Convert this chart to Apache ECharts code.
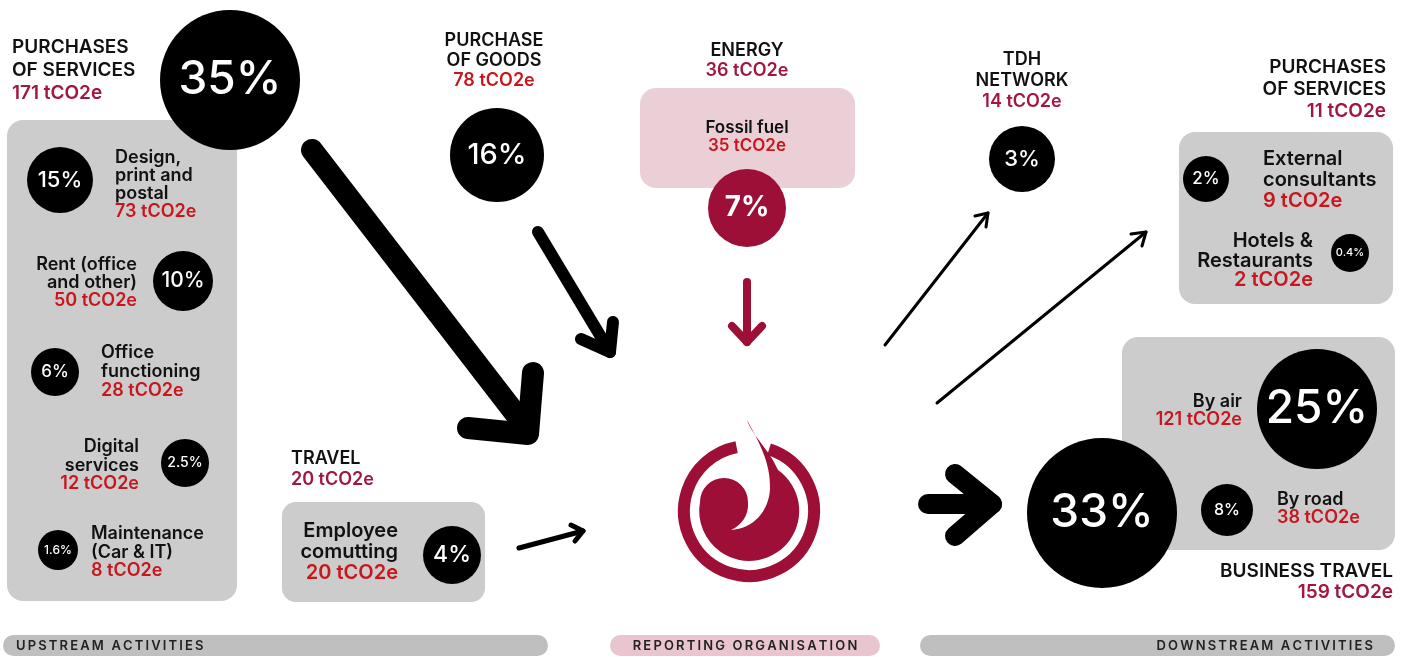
<!DOCTYPE html>
<html lang="en">
<head>
<meta charset="UTF-8">
<title>Carbon footprint by activity</title>
<script src="https://cdn.jsdelivr.net/npm/echarts@6/dist/echarts.min.js"></script>
<style>
    html, body { margin: 0; padding: 0; background: #fff; }
    #main { width: 1408px; height: 657px; }
</style>
</head>
<body>
<div id="main"></div>
<script>
// ---------- data ----------
const unit = ' tCO2e';
const groupTitles = ['PURCHASES\nOF SERVICES', 'PURCHASE\nOF GOODS', 'ENERGY', 'TRAVEL', 'TDH\nNETWORK', 'PURCHASES\nOF SERVICES', 'BUSINESS TRAVEL'];
const groupTotals = [171, 78, 36, 20, 14, 11, 159];
const itemTitles = ['Design,\nprint and\npostal', 'Rent (office\nand other)', 'Office\nfunctioning', 'Digital\nservices', 'Maintenance\n(Car & IT)',
    'Fossil fuel', 'Employee\ncomutting', 'External\nconsultants', 'Hotels &\nRestaurants', 'By air', 'By road'];
const itemTotals = [73, 50, 28, 12, 8, 35, 20, 9, 2, 121, 38];
// shares in %: purchases of services, its 5 items, goods, fossil fuel, commuting, TDH, consultants, hotels, business travel, air, road
const shareValues = [35, 15, 10, 6, 2.5, 1.6, 16, 7, 4, 3, 2, 0.4, 33, 25, 8];
const bandLabels = ['UPSTREAM ACTIVITIES', 'REPORTING ORGANISATION', 'DOWNSTREAM ACTIVITIES'];

// ---------- layout (pixels of the 1408x657 page) ----------
const BLACK = '#111', WINE = '#a1173f', RED = '#c8161d', GREY = '#cccccc', PINK = '#ebcfd6', DARKRED = '#9e0f37';
const FONT = 'Inter, "Noto Sans", sans-serif';
// x, y of first line, align, line height, font size, value colour
const groupPos = [
    [12, 47, 'left', 23, 19, WINE],
    [494, 41, 'center', 20, 18, RED],
    [747, 51, 'center', 20, 18, WINE],
    [291, 459, 'left', 21, 18, WINE],
    [1022, 60, 'center', 21, 18, WINE],
    [1386, 67, 'right', 22, 19, WINE],
    [1393, 571, 'right', 21, 19, WINE]
];
const itemPos = [
    [115, 158, 'left', 18, 18],
    [137, 265, 'right', 18, 18],
    [101, 353, 'left', 19, 18],
    [139, 447, 'right', 18.5, 18],
    [91, 534, 'left', 18.5, 18],
    [747, 128, 'center', 18, 17],
    [398, 531, 'right', 21, 20],
    [1263, 159, 'left', 21, 20],
    [1313, 241, 'right', 19.5, 20],
    [1242, 402, 'right', 18, 18],
    [1277, 500, 'left', 18, 18]
];
// cx, cy, radius, font size
const circlePos = [
    [230, 80, 70, 46], [60, 180, 33, 22], [183, 281, 30, 21], [55, 372, 24, 17], [185, 463, 24, 14], [58, 550, 20, 12],
    [497, 155, 47, 29], [747, 208, 39, 28], [452, 555, 29, 23], [1022, 159, 33, 22], [1206, 179, 23, 17],
    [1350, 253, 19, 11], [1102, 513, 75, 46], [1317, 409, 60, 46], [1227, 510, 26, 16]
];
const circleColor = shareValues.map((v, i) => i === 7 ? DARKRED : '#000');
// x, y, w, h, radius, fill
const boxes = [
    [7, 120, 230, 481, 16, GREY],
    [282, 502, 203, 100, 14, GREY],
    [640, 88, 215, 100, 16, PINK],
    [1179, 132, 214, 172, 16, GREY],
    [1122, 337, 273, 213, 16, GREY]
];
// x, y, w, h, fill, text align, text x
const bands = [
    [3, 635, 545, 21, '#bfbfbf', 'left', 16],
    [610, 635, 270, 21, '#e8c5cf', 'center', 745],
    [920, 635, 475, 21, '#bfbfbf', 'right', 1373]
];
// shaft, head, width, colour
const arrows = [
    [[[312, 150], [528, 430]], [[468, 428], [528, 434], [533, 373]], 22, '#000'],
    [[[538, 232], [610, 352]], [[581, 339], [610, 352], [613, 322]], 12, '#000'],
    [[[747, 282], [747, 342]], [[732, 326], [747, 342], [762, 326]], 8, DARKRED],
    [[[519, 548], [583, 531]], [[571, 525], [583, 531], [575, 541]], 5, '#000'],
    [[[885, 345], [988, 213]], [[975, 216], [988, 213], [986, 227]], 3, '#000'],
    [[[937, 403], [1146, 232]], [[1131, 234], [1146, 232], [1142, 246]], 3, '#000'],
    [[[928, 504], [992, 504]], [[955, 474], [992, 504], [955, 536]], 20, '#000']
];
const logoPos = [749, 511];
const logoBody = 'M -2 -91 C 4 -74 20 -62 29 -41 A 50 50 0 1 1 -49 -9 A 24 24 0 0 1 -1 -9 ' +
    'C 0 4 -7 14 -18 19 C 4 18 20 0 21 -22 C 22 -50 8 -72 -2 -91 Z';

// ---------- chart ----------
const chart = echarts.init(document.getElementById('main'));

function textBlock(api, pos, title, value, size, valueColor) {
    const lines = title.split('\n');
    const font = '600 ' + size + 'px ' + FONT;
    const children = lines.map((t, i) => {
        const p = api.coord([pos[0], pos[1] + i * pos[3]]);
        return { type: 'text', style: { text: t, x: p[0], y: p[1], fill: BLACK, font: font, align: pos[2], verticalAlign: 'middle' } };
    });
    const pv = api.coord([pos[0], pos[1] + lines.length * pos[3]]);
    children.push({ type: 'text', style: { text: value + unit, x: pv[0], y: pv[1], fill: valueColor, font: font, align: pos[2], verticalAlign: 'middle' } });
    return { type: 'group', children: children };
}

function rectOf(api, x, y, w, h) {
    const a = api.coord([x, y]), b = api.coord([x + w, y + h]);
    return { x: a[0], y: a[1], width: b[0] - a[0], height: b[1] - a[1] };
}

const option = {
    animation: false,
    backgroundColor: '#fff',
    grid: { left: 0, right: 0, top: 0, bottom: 0 },
    xAxis: { type: 'value', min: 0, max: 1408, show: false },
    yAxis: { type: 'value', min: 0, max: 657, inverse: true, show: false },
    series: [
        {
            type: 'custom', name: 'boxes', z: 1, silent: true,
            data: boxes.map(b => [b[0], b[1]]),
            renderItem: (params, api) => {
                const b = boxes[params.dataIndex];
                const r = rectOf(api, b[0], b[1], b[2], b[3]);
                r.r = b[4];
                return { type: 'rect', shape: r, style: { fill: b[5] } };
            }
        },
        {
            type: 'custom', name: 'bands', z: 1, silent: true,
            data: bands.map(b => [b[0], b[1]]),
            renderItem: (params, api) => {
                const b = bands[params.dataIndex];
                const r = rectOf(api, b[0], b[1], b[2], b[3]);
                r.r = b[3] / 2;
                const t = api.coord([b[6], b[1] + b[3] / 2 + 1]);
                const label = bandLabels[params.dataIndex].split('').join('\u2009');
                return {
                    type: 'group', children: [
                        { type: 'rect', shape: r, style: { fill: b[4] } },
                        { type: 'text', style: { text: label, x: t[0], y: t[1], fill: '#222', font: '600 13px ' + FONT, align: b[5], verticalAlign: 'middle' } }
                    ]
                };
            }
        },
        {
            type: 'custom', name: 'arrows', z: 3, silent: true,
            data: arrows.map(a => a[0][0]),
            renderItem: (params, api) => {
                const a = arrows[params.dataIndex];
                const style = { stroke: a[3], lineWidth: a[2], fill: null, lineCap: 'round', lineJoin: 'round' };
                return {
                    type: 'group', children: [
                        { type: 'polyline', shape: { points: a[0].map(p => api.coord(p)) }, style: style },
                        { type: 'polyline', shape: { points: a[1].map(p => api.coord(p)) }, style: style }
                    ]
                };
            }
        },
        {
            type: 'custom', name: 'logo', z: 3, silent: true,
            data: [logoPos],
            renderItem: (params, api) => {
                const c = api.coord([api.value(0), api.value(1)]);
                return {
                    type: 'group', children: [
                        { type: 'arc', shape: { cx: c[0], cy: c[1], r: 65, startAngle: -72 * Math.PI / 180, endAngle: 259 * Math.PI / 180, clockwise: true },
                          style: { stroke: DARKRED, lineWidth: 12, fill: null } },
                        { type: 'path', x: c[0], y: c[1], shape: { pathData: logoBody }, style: { fill: DARKRED } }
                    ]
                };
            }
        },
        {
            type: 'scatter', name: 'shares', z: 4, silent: true, symbol: 'circle',
            data: shareValues.map((v, i) => ({
                value: [circlePos[i][0], circlePos[i][1], v],
                symbolSize: circlePos[i][2] * 2,
                itemStyle: { color: circleColor[i], opacity: 1 },
                label: { fontSize: circlePos[i][3], fontWeight: i === 7 ? 700 : 500 }
            })),
            label: { show: true, position: 'inside', color: '#fff', fontFamily: FONT, formatter: p => p.value[2] + '%' }
        },
        {
            type: 'custom', name: 'groups', z: 5, silent: true,
            data: groupPos.map(p => [p[0], p[1]]),
            renderItem: (params, api) => {
                const i = params.dataIndex, p = groupPos[i];
                return textBlock(api, p, groupTitles[i], groupTotals[i], p[4], p[5]);
            }
        },
        {
            type: 'custom', name: 'items', z: 5, silent: true,
            data: itemPos.map(p => [p[0], p[1]]),
            renderItem: (params, api) => {
                const i = params.dataIndex, p = itemPos[i];
                return textBlock(api, p, itemTitles[i], itemTotals[i], p[4], RED);
            }
        }
    ]
};
chart.setOption(option);
</script>
</body>
</html>
